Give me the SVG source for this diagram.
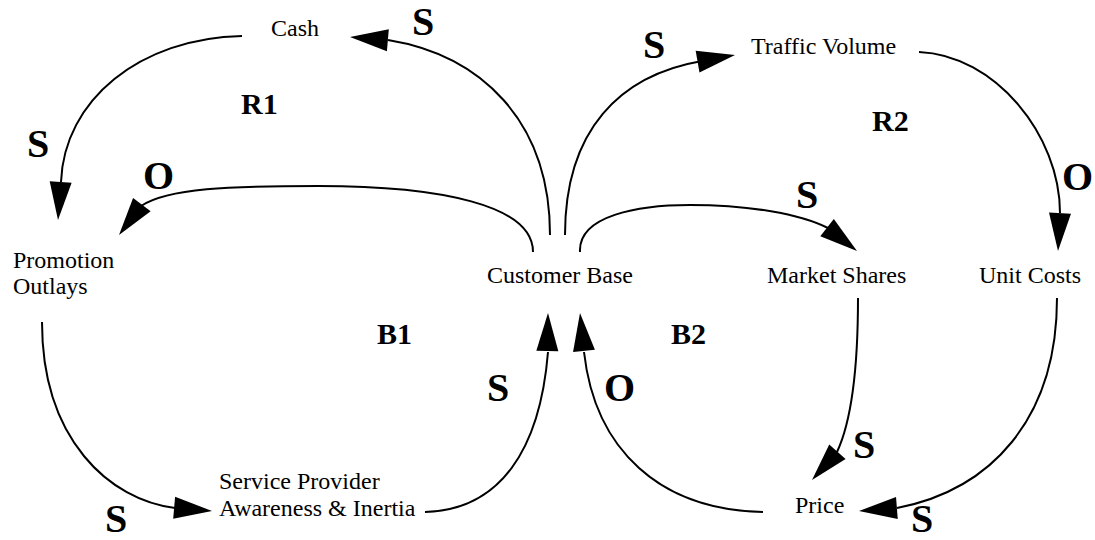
<svg xmlns="http://www.w3.org/2000/svg" xmlns:xlink="http://www.w3.org/1999/xlink" width="1095" height="540" viewBox="0 0 1095 540">
<style>
  .node { font-family: "Liberation Serif", "Times New Roman", serif; font-size: 24px; fill: #000; }
  .pol { font-family: "Liberation Serif", "Times New Roman", serif; font-size: 40px; font-weight: bold; fill: #000; }
  .loop { font-family: "Liberation Serif", "Times New Roman", serif; font-size: 30px; font-weight: bold; fill: #000; }
  .link { fill: none; stroke: #000; stroke-width: 2; }
  .head { fill: #000; stroke: none; }
</style>
<defs>
  <path id="ah" class="head" d="M0,0 L-38,-11 L-38,11 Z"/>
</defs>
<rect width="1095" height="540" fill="#fff"/>

<g id="connectors">
  <g id="c-cash-promo">
    <path class="link" d="M242,36 C 140,38 64,100 61,182"/>
    <use xlink:href="#ah" href="#ah" transform="translate(58,220) rotate(94)"/>
    <text class="pol" x="27" y="157">S</text>
  </g>
  <g id="c-cust-promo">
    <path class="link" d="M533,252 C 533,205 440,186 318,186 C 230,186 168,188 141,206"/>
    <use xlink:href="#ah" href="#ah" transform="translate(119,235) rotate(127)"/>
    <text class="pol" x="143" y="189">O</text>
  </g>
  <g id="c-cust-cash">
    <path class="link" d="M550,235 C 550,120 480,55 388,40"/>
    <use xlink:href="#ah" href="#ah" transform="translate(350,37) rotate(185)"/>
    <text class="pol" x="412" y="35">S</text>
  </g>
  <g id="c-cust-traffic">
    <path class="link" d="M565,235 C 565,130 620,75 702,61"/>
    <use xlink:href="#ah" href="#ah" transform="translate(735,55) rotate(-10)"/>
    <text class="pol" x="643" y="58">S</text>
  </g>
  <g id="c-traffic-unit">
    <path class="link" d="M919,52 C 995,55 1060,135 1060,213"/>
    <use xlink:href="#ah" href="#ah" transform="translate(1058,251) rotate(93)"/>
    <text class="pol" x="1062" y="190">O</text>
  </g>
  <g id="c-cust-market">
    <path class="link" d="M580,252 C 578,215 640,205 690,205 C 750,205 800,214 828,228"/>
    <use xlink:href="#ah" href="#ah" transform="translate(857,251) rotate(38)"/>
    <text class="pol" x="796" y="208">S</text>
  </g>
  <g id="c-promo-service">
    <path class="link" d="M42,322 C 42,440 110,500 175,508"/>
    <use xlink:href="#ah" href="#ah" transform="translate(212,511) rotate(5)"/>
    <text class="pol" x="105" y="532">S</text>
  </g>
  <g id="c-service-cust">
    <path class="link" d="M425,512 C 500,510 540,450 548,352"/>
    <use xlink:href="#ah" href="#ah" transform="translate(548,313) rotate(-89)"/>
    <text class="pol" x="487" y="401">S</text>
  </g>
  <g id="c-price-cust">
    <path class="link" d="M763,512 C 660,510 595,450 584,352"/>
    <use xlink:href="#ah" href="#ah" transform="translate(580,313) rotate(-96)"/>
    <text class="pol" x="604" y="401">O</text>
  </g>
  <g id="c-market-price">
    <path class="link" d="M858,298 C 858,370 852,420 837,452"/>
    <use xlink:href="#ah" href="#ah" transform="translate(812,480) rotate(132)"/>
    <text class="pol" x="853" y="458">S</text>
  </g>
  <g id="c-unit-price">
    <path class="link" d="M1057,298 C 1057,420 990,490 897,508"/>
    <use xlink:href="#ah" href="#ah" transform="translate(859,511) rotate(175.5)"/>
    <text class="pol" x="911" y="532">S</text>
  </g>
</g>

<g id="loops">
  <text class="loop" x="241" y="114">R1</text>
  <text class="loop" x="872" y="131">R2</text>
  <text class="loop" x="377" y="344">B1</text>
  <text class="loop" x="671" y="344">B2</text>
</g>

<g id="node-cash"><text class="node" x="271" y="36">Cash</text></g>
<g id="node-traffic"><text class="node" x="751" y="54">Traffic Volume</text></g>
<g id="node-promotion"><text class="node" x="13" y="268">Promotion</text><text class="node" x="13" y="294">Outlays</text></g>
<g id="node-customer"><text class="node" x="487" y="283">Customer Base</text></g>
<g id="node-market"><text class="node" x="767" y="283">Market Shares</text></g>
<g id="node-unit"><text class="node" x="979" y="283">Unit Costs</text></g>
<g id="node-service"><text class="node" x="219" y="489">Service Provider</text><text class="node" x="219" y="516">Awareness &amp; Inertia</text></g>
<g id="node-price"><text class="node" x="795" y="513">Price</text></g>
</svg>
